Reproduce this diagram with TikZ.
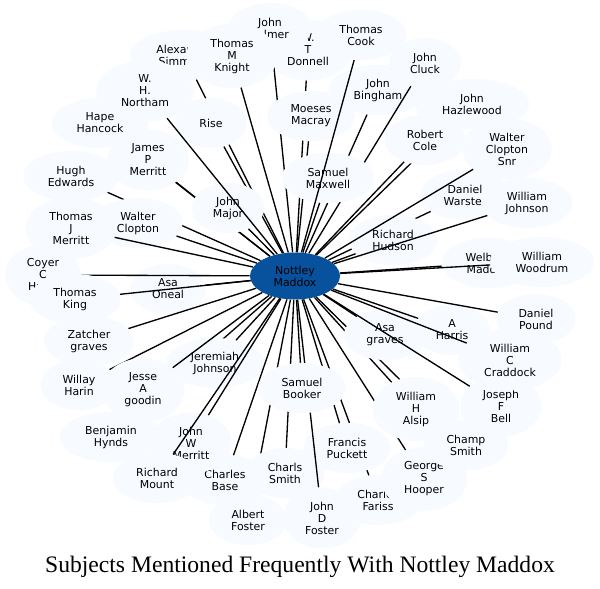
\documentclass[tikz,border=0pt]{standalone}
\usepackage{fontspec}
\setmainfont{DejaVu Sans}
\newfontfamily\titlefont{Liberation Serif}
\usetikzlibrary{shapes.geometric}
\definecolor{pale}{HTML}{F7FBFF}
\definecolor{hub}{HTML}{08519C}
\newcommand\personnode[3]{\node[person] (#1) at (#2) {#3};\draw[link] (hub) -- (#1);}
\begin{document}
\begin{tikzpicture}[x=0.75pt,y=-0.75pt,
  person/.style={ellipse, fill=pale, draw=none, align=center, inner xsep=7.9pt, inner ysep=4pt,
    minimum width=54pt, minimum height=37.5pt, font=\fontsize{8.2}{9}\selectfont},
  hubnode/.style={ellipse, fill=hub, draw=none, align=center, inner sep=0pt,
    minimum width=67.5pt, minimum height=35.25pt, font=\fontsize{8.2}{9}\selectfont},
  link/.style={line width=1pt, draw=black},
  titlestyle/.style={font=\titlefont\fontsize{17.7}{20}\selectfont, inner sep=0pt}]
\fill[white] (0,0) rectangle (600,589);
\useasboundingbox (0,0) rectangle (600,589);
\node[hubnode] (hub) at (295,276) {Nottley\\Maddox};
\personnode{Donnell}{308,50}{W.\\T\\Donnell}
\personnode{Palmer}{270,28}{John\\Palmer}
\personnode{Alexander}{184,55}{Alexander\\Simmons}
\personnode{Knight}{232,56}{Thomas\\M\\Knight}
\personnode{Rise}{211,123}{Rise}
\personnode{Hape}{100,123}{Hape\\Hancock}
\personnode{JamesP}{148,160}{James\\P\\Merritt}
\personnode{Major}{228,208}{John\\Major}
\personnode{Northam}{145,91}{W.\\H.\\Northam}
\personnode{Hugh}{71,176}{Hugh\\Edwards}
\personnode{WClopton}{138,223}{Walter\\Clopton}
\personnode{ThomasJ}{71,228}{Thomas\\J\\Merritt}
\personnode{AsaOneal}{168,289}{Asa\\Oneal}
\personnode{Coyer}{43,275}{Coyer\\C\\Hurst}
\personnode{King}{75,299}{Thomas\\King}
\personnode{Zatcher}{89,341}{Zatcher\\graves}
\personnode{Willay}{79,385}{Willay\\Harin}
\personnode{Hynds}{111,437}{Benjamin\\Hynds}
\personnode{Jeremiah}{215,363}{Jeremiah\\Johnson}
\personnode{Jesse}{143,390}{Jesse\\A\\goodin}
\personnode{AFoster}{248,520}{Albert\\Foster}
\personnode{CSmith}{285,473}{Charls\\Smith}
\personnode{Base}{225,480}{Charles\\Base}
\personnode{JWM}{191,443}{John\\W\\Merritt}
\personnode{Mount}{157,478}{Richard\\Mount}
\personnode{Fariss}{378,500}{Charles\\Fariss}
\personnode{Puckett}{347,448}{Francis\\Puckett}
\personnode{DFoster}{322,518}{John\\D\\Foster}
\personnode{Booker}{302,388}{Samuel\\Booker}
\personnode{Hooper}{424,479}{George\\S\\Hooper}
\personnode{Champ}{466,445}{Champ\\Smith}
\personnode{Alsip}{416,409}{William\\H\\Alsip}
\personnode{AsaGraves}{385,335}{Asa\\graves}
\personnode{Bell}{501,406}{Joseph\\F\\Bell}
\personnode{Harris}{452,330}{A\\Harris}
\personnode{Pound}{536,319}{Daniel\\Pound}
\personnode{Craddock}{510,360}{William\\C\\Craddock}
\personnode{Welborn}{488,263}{Welborn\\Maddox}
\personnode{Woodrum}{542,262}{William\\Woodrum}
\personnode{Warster}{465,195}{Daniel\\Warster}
\personnode{Hudson}{393,240}{Richard\\Hudson}
\personnode{WJohnson}{527,203}{William\\Johnson}
\personnode{CloptonSnr}{507,149}{Walter\\Clopton\\Snr}
\personnode{Hazlewood}{472,104}{John\\Hazlewood}
\personnode{Cole}{425,140}{Robert\\Cole}
\personnode{Bingham}{378,90}{John\\Bingham}
\personnode{Cluck}{425,63}{John\\Cluck}
\personnode{Moeses}{311,116}{Moeses\\Macray}
\personnode{Maxwell}{328,178}{Samuel\\Maxwell}
\personnode{Cook}{361,35}{Thomas\\Cook}
\node[titlestyle] (title) at (300,567) {Subjects Mentioned Frequently With Nottley Maddox};
\end{tikzpicture}
\end{document}
